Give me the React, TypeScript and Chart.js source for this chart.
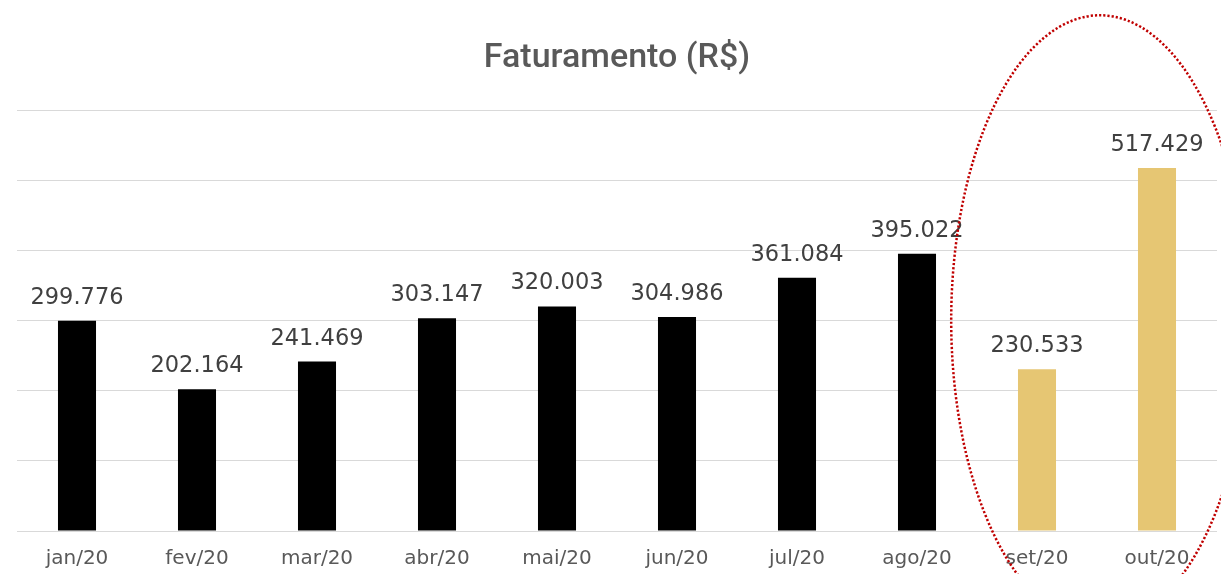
import React, { useEffect, useRef } from "react";
import { Chart, registerables } from "chart.js";

Chart.register(...registerables);

const categories = ["jan/20", "fev/20", "mar/20", "abr/20", "mai/20", "jun/20", "jul/20", "ago/20", "set/20", "out/20"];
const revenue = [299776, 202164, 241469, 303147, 320003, 304986, 361084, 395022, 230533, 517429];
const highlighted = [false, false, false, false, false, false, false, false, true, true];
const chartTitle = "Faturamento (R$)";
const yMax = 600000;
const yStep = 100000;

const formatBR = (v: number) => v.toString().replace(/\B(?=(\d{3})+(?!\d))/g, ".");

const dataLabelPlugin = {
  id: "dataLabels",
  afterDatasetsDraw(chart: any) {
    const ctx = chart.ctx;
    const meta = chart.getDatasetMeta(0);
    ctx.save();
    ctx.font = "22.5px 'DejaVu Sans'";
    ctx.fillStyle = "#404040";
    ctx.textAlign = "center";
    ctx.textBaseline = "alphabetic";
    meta.data.forEach((bar: any, i: number) => {
      ctx.fillText(formatBR(revenue[i]), bar.x, bar.y - 17);
    });
    ctx.restore();
  },
};

const ellipsePlugin = {
  id: "highlightEllipse",
  afterDraw(chart: any) {
    const x = chart.scales.x;
    const y = chart.scales.y;
    const idx = highlighted.map((h, i) => (h ? i : -1)).filter((i) => i >= 0);
    if (!idx.length) return;
    const catW = x.getPixelForValue(1) - x.getPixelForValue(0);
    const mid = (idx[0] + idx[idx.length - 1]) / 2;
    const cx = x.getPixelForValue(mid) + catW * 0.025;
    const cy = y.getPixelForValue(yMax * 0.5);
    const rx = catW * 1.24;
    const ry = (y.getPixelForValue(0) - y.getPixelForValue(yMax)) * 0.725;
    const ctx = chart.ctx;
    ctx.save();
    ctx.strokeStyle = "#C00000";
    ctx.lineWidth = 2.5;
    ctx.setLineDash([2.2, 2]);
    ctx.beginPath();
    ctx.ellipse(cx, cy, rx, ry, 0, 0, Math.PI * 2);
    ctx.stroke();
    ctx.restore();
  },
};

export default function App() {
  const canvasRef = useRef<HTMLCanvasElement | null>(null);

  useEffect(() => {
    document.body.style.margin = "0";
    const canvas = canvasRef.current;
    if (!canvas) return;
    const chart = new Chart(canvas, {
      type: "bar",
      data: {
        labels: categories,
        datasets: [
          {
            label: chartTitle,
            data: revenue,
            backgroundColor: highlighted.map((h) => (h ? "#E6C673" : "#000000")),
            barPercentage: 0.317,
            categoryPercentage: 1,
          },
        ],
      },
      options: {
        responsive: false,
        animation: false,
        devicePixelRatio: 1,
        layout: { padding: { left: 17, right: 4, top: 0, bottom: 0 } },
        plugins: {
          legend: { display: false },
          tooltip: { enabled: false },
          title: {
            display: true,
            text: chartTitle,
            color: "#595959",
            font: { family: "Roboto", size: 34, weight: 500, lineHeight: 1.2 },
            padding: { top: 38.5, bottom: 30.7 },
          },
        },
        scales: {
          x: {
            grid: { display: false, drawTicks: false },
            border: { display: false },
            ticks: {
              color: "#595959",
              font: { family: "DejaVu Sans", size: 20 },
              padding: 16,
              maxRotation: 0,
            },
            afterFit: (s: any) => {
              s.height = 43;
            },
          },
          y: {
            min: 0,
            max: yMax,
            grid: { color: "#D9D9D9", lineWidth: 1, drawTicks: false },
            border: { display: false },
            ticks: { display: false, stepSize: yStep },
          },
        },
      },
      plugins: [dataLabelPlugin, ellipsePlugin],
    });
    return () => chart.destroy();
  }, []);

  return (
    <div style={{ width: 1221, height: 574 }}>
      <canvas ref={canvasRef} width={1221} height={574} />
    </div>
  );
}
